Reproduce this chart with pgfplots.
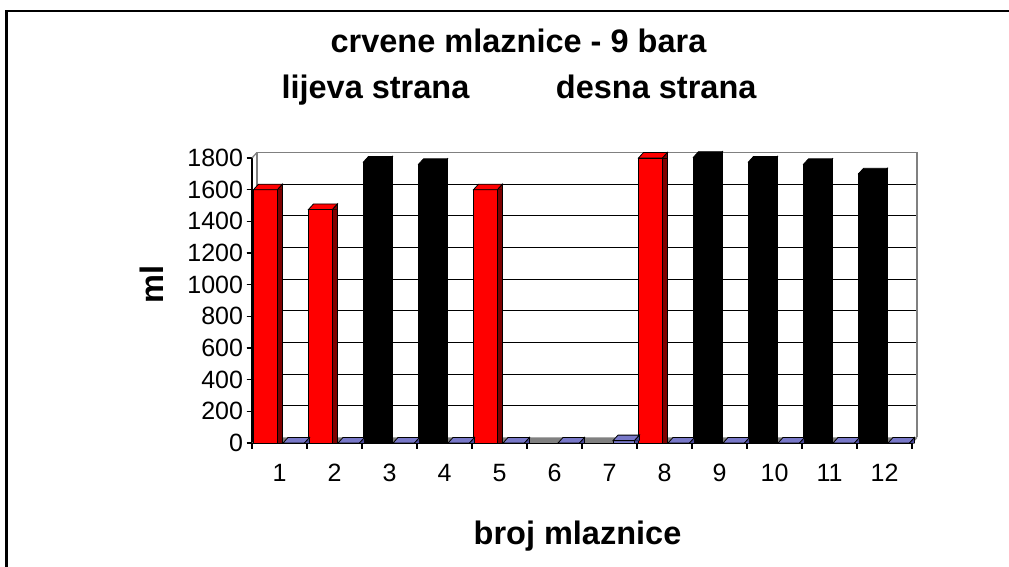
\documentclass[border=0pt]{standalone}
\usepackage{fontspec}
\setmainfont{Liberation Sans}
\usepackage{pgfplots}
\usepackage{pgfplotstable}
\pgfplotsset{compat=1.18}
\definecolor{barred}{RGB}{255,0,0}
\definecolor{sidered}{RGB}{128,0,0}
\definecolor{lav}{RGB}{120,120,200}
\definecolor{lavside}{RGB}{72,72,150}
\definecolor{wallgray}{RGB}{128,128,128}

% top face (and top of side face) of a 3-D column, drawn at the data point
\newcommand{\colTopFace}[4]{%
 \pgfpathmoveto{\pgfpoint{#1}{0bp}}%
 \pgfpathlineto{\pgfpoint{#2}{0bp}}%
 \pgfpathlineto{\pgfpoint{#2+5bp}{5.5bp}}%
 \pgfpathlineto{\pgfpoint{#1+5bp}{5.5bp}}%
 \pgfpathclose
 \pgfsetfillcolor{#3}\pgfsetstrokecolor{black}%
 \pgfusepath{fill,stroke}%
 \pgfpathmoveto{\pgfpoint{#2}{0bp}}%
 \pgfpathlineto{\pgfpoint{#2+5bp}{5.5bp}}%
 \pgfpathlineto{\pgfpoint{#2+5bp}{0bp}}%
 \pgfpathclose
 \pgfsetfillcolor{#4}%
 \pgfusepath{fill}%
 \pgfpathmoveto{\pgfpoint{#2}{0bp}}%
 \pgfpathlineto{\pgfpoint{#2+5bp}{5.5bp}}%
 \pgfpathlineto{\pgfpoint{#2+5bp}{0bp}}%
 \pgfusepath{stroke}%
}
\pgfdeclareplotmark{topred}{\colTopFace{-26bp}{-2bp}{barred}{sidered}}
\pgfdeclareplotmark{topblack}{\colTopFace{-26bp}{-2bp}{black}{black}}
\pgfdeclareplotmark{topblue}{\colTopFace{3.5bp}{25bp}{lav}{lavside}}

% series 1 (ml), split by bar colour; categories 6 and 7 have no value
\pgfplotstableread{
x y
1 1600
2 1475
5 1600
8 1800
}\redbars
\pgfplotstableread{
x y
3 1775
4 1760
9 1805
10 1775
11 1760
12 1700
}\blackbars
% series 2
\pgfplotstableread{
x y
1 0
2 0
3 0
4 0
5 0
6 0
7 15
8 0
9 0
10 0
11 0
12 0
}\bluebars

\begin{document}
\begin{tikzpicture}
\useasboundingbox (0,0) rectangle (1009bp,567bp);
\draw[line width=2.5bp] (6.5bp,-20bp) -- (6.5bp,556bp) -- (1030bp,556bp);
\node[anchor=base, font=\fontsize{32.5bp}{39bp}\selectfont\bfseries] at (518.5bp,514bp) {crvene mlaznice - 9 bara};
\node[anchor=base west, font=\fontsize{32.5bp}{39bp}\selectfont\bfseries] at (278bp,468bp) {lijeva strana};
\node[anchor=base east, font=\fontsize{32.5bp}{39bp}\selectfont\bfseries] at (760bp,468bp) {desna strana};
\begin{axis}[
  at={(252bp,124bp)}, anchor=south west,
  scale only axis, width=660bp, height=285bp,
  xmin=0.5, xmax=12.5, ymin=0, ymax=1800,
  clip=false,
  axis x line*=bottom, axis y line*=left,
  axis line style={line width=1.3bp, black},
  xtick={0.5,1.5,...,12.5},
  x tick label as interval,
  xticklabels={1,2,3,4,5,6,7,8,9,10,11,12},
  ytick={0,200,...,1800},
  extra y ticks={200,400,...,1600},
  extra y tick labels={},
  extra y tick style={ymajorgrids=true},
  major grid style={black, line width=1.3bp, xshift=5bp, yshift=5.5bp},
  tick align=outside,
  major tick length=5.5bp,
  tick style={line width=1.3bp, black},
  xticklabel style={font=\fontsize{25bp}{29bp}\selectfont, yshift=-12bp},
  yticklabel style={font=\fontsize{25bp}{29bp}\selectfont},
  /pgf/number format/assume math mode=true,
  /pgf/number format/1000 sep={},
  xlabel={broj mlaznice},
  ylabel={ml},
  every axis x label/.style={at={(axis description cs:0.4932,-0.3544)}, anchor=base,
     font=\fontsize{32.5bp}{39bp}\selectfont\bfseries},
  every axis y label/.style={at={(axis description cs:-0.1345,0.556)}, anchor=base, rotate=90,
     font=\fontsize{32.5bp}{39bp}\selectfont\bfseries},
]
% floor and back walls
\fill[wallgray] (axis cs:0.5,0) -- (axis cs:12.5,0) -- ([shift={(5bp,5.5bp)}]axis cs:12.5,0) -- ([shift={(5bp,5.5bp)}]axis cs:0.5,0) -- cycle;
\draw[wallgray, line width=1.3bp] ([shift={(5bp,5.5bp)}]axis cs:0.5,0) -- ([shift={(5bp,5.5bp)}]axis cs:0.5,1800) -- ([shift={(5bp,5.5bp)}]axis cs:12.5,1800) -- ([shift={(5bp,5.5bp)}]axis cs:12.5,0);
\draw[wallgray, line width=1.3bp] (axis cs:0.5,1800) -- ([shift={(5bp,5.5bp)}]axis cs:0.5,1800);
\draw[wallgray, line width=1.3bp] (axis cs:12.5,0) -- ([shift={(5bp,5.5bp)}]axis cs:12.5,0);

% series 2 (blue, floor level)
\addplot[ybar, bar width=5bp, bar shift=27.5bp, fill=lavside, draw=black, line width=0.8bp] table {\bluebars};
\addplot[ybar, bar width=21.5bp, bar shift=14.25bp, fill=lav, draw=black, line width=0.8bp] table {\bluebars};
\addplot[only marks, mark=topblue, mark options={line width=0.8bp}] table {\bluebars};

% series 1, red columns
\addplot[ybar, bar width=5bp, bar shift=0.5bp, fill=sidered, draw=black, line width=0.8bp] table {\redbars};
\addplot[ybar, bar width=24bp, bar shift=-14bp, fill=barred, draw=black, line width=0.8bp] table {\redbars};
\addplot[only marks, mark=topred, mark options={line width=0.8bp}] table {\redbars};

% series 1, black columns
\addplot[ybar, bar width=5bp, bar shift=0.5bp, fill=black, draw=black, line width=0.8bp] table {\blackbars};
\addplot[ybar, bar width=24bp, bar shift=-14bp, fill=black, draw=black, line width=0.8bp] table {\blackbars};
\addplot[only marks, mark=topblack, mark options={line width=0.8bp}] table {\blackbars};
\end{axis}
\end{tikzpicture}
\end{document}
